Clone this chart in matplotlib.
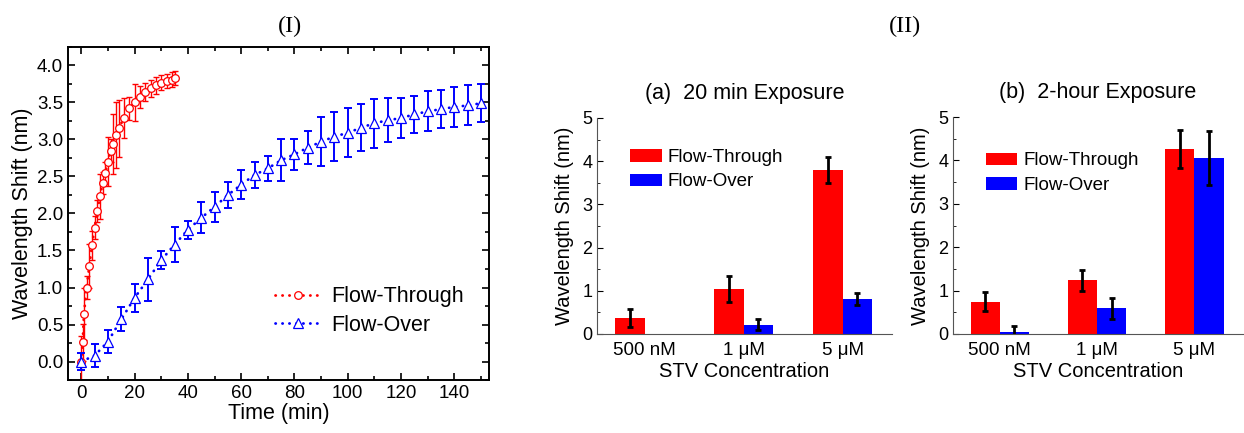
import matplotlib
matplotlib.use("Agg")
import matplotlib.pyplot as plt
from matplotlib.ticker import MultipleLocator
import numpy as np

plt.rcParams["font.family"] = ["Liberation Sans", "DejaVu Sans"]

# ── (I) kinetics data ─────────────────────────────────────────────────────────
ft_time = [0, 0.5, 1, 2, 3, 4, 5, 6, 7, 8, 9, 10, 11, 12, 13, 14, 16, 18,
           20, 22, 24, 26, 28, 30, 32, 34, 35]
ft_shift = [0.0, 0.26, 0.64, 1.00, 1.29, 1.57, 1.81, 2.03, 2.23, 2.41, 2.55,
            2.70, 2.85, 2.94, 3.06, 3.15, 3.29, 3.42, 3.50, 3.57, 3.64, 3.69,
            3.73, 3.77, 3.79, 3.81, 3.83]
ft_err = [0.35, 0.25, 0.35, 0.15, 0.30, 0.20, 0.15, 0.15, 0.30, 0.15, 0.15,
          0.33, 0.15, 0.40, 0.45, 0.38, 0.27, 0.15, 0.25, 0.15, 0.12, 0.12,
          0.12, 0.10, 0.10, 0.10, 0.10]

fo_time = [0, 5, 10, 15, 20, 25, 30, 35, 40, 45, 50, 55, 60, 65, 70, 75, 80,
           85, 90, 95, 100, 105, 110, 115, 120, 125, 130, 135, 140, 145, 150]
fo_shift = [0.00, 0.08, 0.27, 0.57, 0.86, 1.11, 1.37, 1.58, 1.78, 1.94, 2.09,
            2.25, 2.39, 2.52, 2.61, 2.72, 2.80, 2.89, 2.97, 3.04, 3.09, 3.16,
            3.22, 3.26, 3.29, 3.34, 3.38, 3.41, 3.44, 3.46, 3.49]
fo_err = [0.11, 0.16, 0.15, 0.16, 0.19, 0.29, 0.12, 0.24, 0.12, 0.21, 0.20,
          0.17, 0.20, 0.18, 0.17, 0.28, 0.21, 0.22, 0.33, 0.33, 0.33, 0.32,
          0.33, 0.30, 0.27, 0.25, 0.27, 0.26, 0.27, 0.27, 0.26]

# ── (II) bar data ─────────────────────────────────────────────────────────────
conc_labels = ["500 nM", "1 \u03bcM", "5 \u03bcM"]
a_ft = [0.38, 1.04, 3.80]
a_ft_err = [0.21, 0.31, 0.30]
a_fo = [0.0, 0.215, 0.81]
a_fo_err = [np.nan, 0.13, 0.15]
b_ft = [0.74, 1.235, 4.26]
b_ft_err = [0.22, 0.25, 0.43]
b_fo = [0.05, 0.59, 4.05]
b_fo_err = [0.14, 0.24, 0.62]

RED, BLUE = "#ff0000", "#0000ff"
W, H = 1244, 433

fig = plt.figure(figsize=(W / 100, H / 100), dpi=100)

def frac(l, r, t, b):
    return [l / W, 1 - b / H, (r - l) / W, (b - t) / H]

# ── panel (I) ─────────────────────────────────────────────────────────────────
ax = fig.add_axes(frac(68, 489, 47, 380))
dots = (0, (0.1, 2.4))
ax.errorbar(ft_time, ft_shift, yerr=ft_err, fmt="none", ecolor=RED,
            elinewidth=1.0, capsize=2.5, capthick=1.0)
ax.plot(ft_time, ft_shift, color=RED, linestyle=dots, linewidth=2.0,
        dash_capstyle="round", marker="o", markersize=5.5,
        markerfacecolor="white", markeredgecolor=RED, markeredgewidth=0.9,
        label="Flow-Through")
ax.errorbar(fo_time, fo_shift, yerr=fo_err, fmt="none", ecolor=BLUE,
            elinewidth=1.4, capsize=3, capthick=1.4)
ax.plot(fo_time, fo_shift, color=BLUE, linestyle=dots, linewidth=2.0,
        dash_capstyle="round", marker="^", markersize=6.5,
        markerfacecolor="white", markeredgecolor=BLUE, markeredgewidth=0.9,
        label="Flow-Over")

ax.set_xlim(-5, 153)
ax.set_ylim(-0.25, 4.25)
ax.xaxis.set_major_locator(MultipleLocator(20))
ax.xaxis.set_minor_locator(MultipleLocator(10))
ax.yaxis.set_major_locator(MultipleLocator(0.5))
ax.yaxis.set_minor_locator(MultipleLocator(0.25))
ax.yaxis.set_major_formatter(matplotlib.ticker.FormatStrFormatter("%.1f"))
ax.tick_params(which="both", direction="in", top=True, right=True,
               labelsize=13.5, width=1.2)
ax.tick_params(which="major", length=5)
ax.tick_params(which="minor", length=3)
for s in ax.spines.values():
    s.set_linewidth(1.4)
ax.set_xlabel("Time (min)", fontsize=15.5, labelpad=1)
ax.set_ylabel("Wavelength Shift (nm)", fontsize=15.5, labelpad=3)
ax.legend(loc="lower right", bbox_to_anchor=(0.965, 0.1), frameon=False,
          fontsize=15.5, handlelength=2.1, handletextpad=0.5, labelspacing=0.35,
          borderpad=0)

# ── panels (II a/b) ───────────────────────────────────────────────────────────
def bar_panel(rect, title, ft, ft_err, fo, fo_err, leg_anchor):
    bx = fig.add_axes(rect)
    x = np.arange(len(conc_labels))
    wd = 0.3
    bx.bar(x - wd / 2, ft, wd, color=RED, label="Flow-Through")
    bx.bar(x + wd / 2, fo, wd, color=BLUE, label="Flow-Over")
    ekw = dict(fmt="none", ecolor="black", elinewidth=2, capsize=2.5, capthick=2)
    bx.errorbar(x - wd / 2, ft, yerr=ft_err, **ekw)
    bx.errorbar(x + wd / 2, fo, yerr=fo_err, **ekw)
    bx.set_xlim(-0.48, 2.5)
    bx.set_ylim(0, 5)
    bx.set_xticks(x)
    bx.set_xticklabels(conc_labels)
    bx.yaxis.set_major_locator(MultipleLocator(1))
    bx.yaxis.set_minor_locator(MultipleLocator(0.5))
    bx.tick_params(axis="y", which="both", direction="in", labelsize=13)
    bx.tick_params(axis="y", which="major", length=4)
    bx.tick_params(axis="y", which="minor", length=2)
    bx.tick_params(axis="x", length=0, labelsize=13.5, pad=6)
    bx.spines["top"].set_visible(False)
    bx.spines["right"].set_visible(False)
    bx.spines["left"].set_color("#555555")
    bx.spines["bottom"].set_color("#555555")
    bx.set_xlabel("STV Concentration", fontsize=14.5, labelpad=2)
    bx.set_ylabel("Wavelength Shift (nm)", fontsize=14.5, labelpad=6)
    bx.set_title(title, fontsize=15.5, pad=14)
    bx.legend(loc="upper left", bbox_to_anchor=leg_anchor, frameon=False,
              fontsize=13.5, handlelength=1.7, handleheight=0.65,
              handletextpad=0.3, labelspacing=0.4, borderpad=0)
    return bx

bar_panel(frac(597, 892, 118, 334), "(a)  20 min Exposure",
          a_ft, a_ft_err, a_fo, a_fo_err, (0.08, 0.9))
bar_panel(frac(953, 1243, 117, 334), "(b)  2-hour Exposure",
          b_ft, b_ft_err, b_fo, b_fo_err, (0.08, 0.88))

fig.text(290 / W, 1 - 26 / H, "(I)", ha="center", va="center",
         fontsize=17.5, family="Liberation Serif")
fig.text(905 / W, 1 - 26 / H, "(II)", ha="center", va="center",
         fontsize=17.5, family="Liberation Serif")

fig.savefig("out.png", dpi=100)
